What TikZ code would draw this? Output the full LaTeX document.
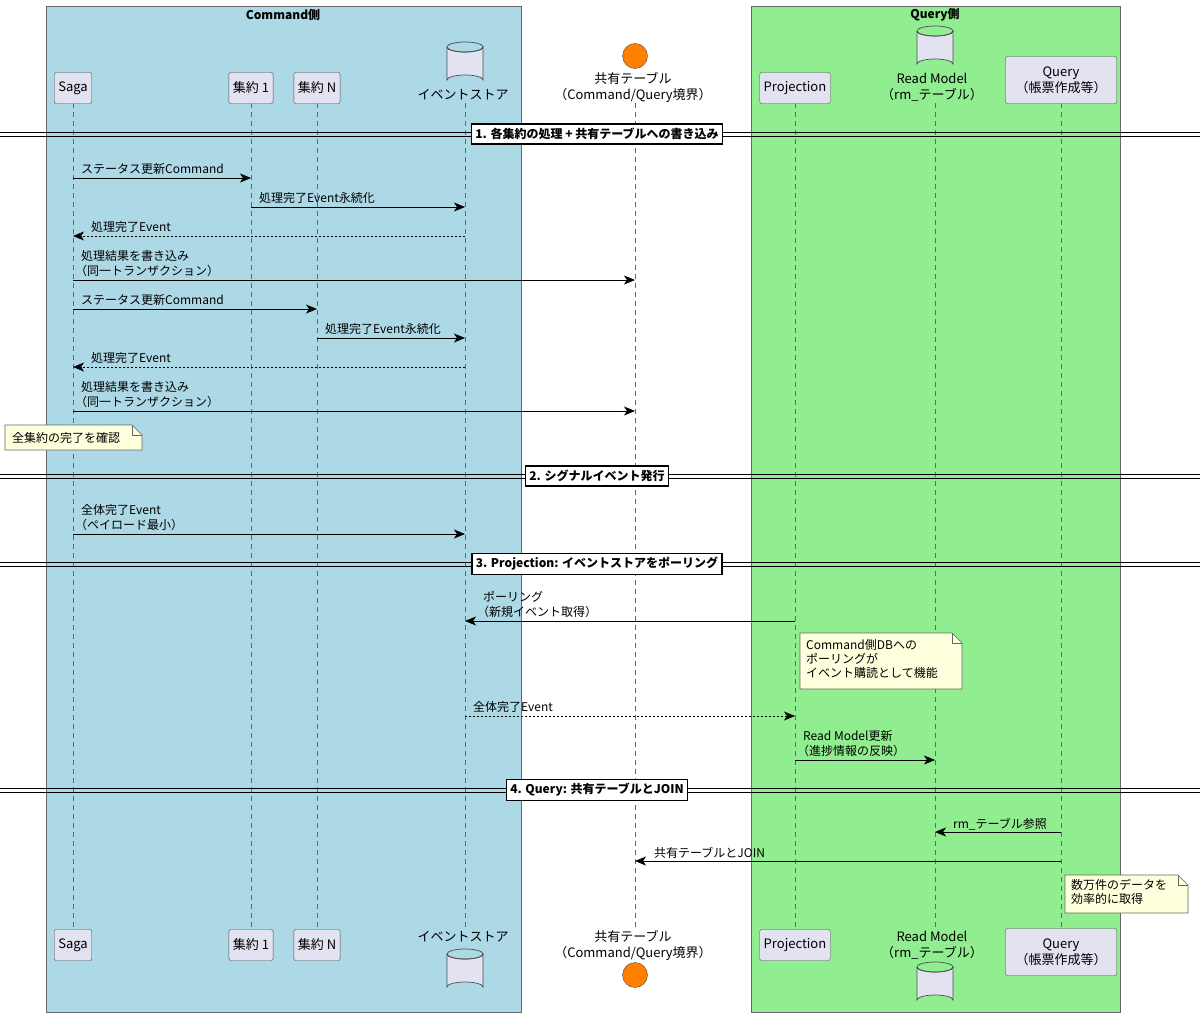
\documentclass[tikz,border=0pt]{standalone}
\usepackage{fontspec}
\setmainfont{Noto Sans CJK JP}
\usetikzlibrary{arrows.meta}
\tikzset{
 part/.style={draw=black!70,fill=partfill,rounded corners=2pt,minimum height=31pt,inner sep=4pt,font=\fontsize{13}{16}\selectfont},
 lbl/.style={font=\fontsize{12}{14}\selectfont,inner sep=0pt,anchor=base west},
 msg/.style={-{Stealth[length=11pt,width=9pt,inset=3pt]},line width=0.8pt},
 rmsg/.style={msg,dash pattern=on 2pt off 2pt},
 life/.style={dash pattern=on 5pt off 4pt,black!60,line width=0.6pt},
 divlab/.style={draw,fill=white,line width=1.5pt,font=\bfseries\fontsize{12}{14}\selectfont,inner sep=4pt},
 notebox/.style={draw=black!60,fill=notefill,line width=0.6pt},
}
\definecolor{partfill}{HTML}{E2E2F0}
\definecolor{notefill}{HTML}{FEFFDD}
\definecolor{cmdbox}{HTML}{ADD8E6}
\definecolor{qbox}{HTML}{90EE90}
\begin{document}
\begin{tikzpicture}[x=1pt,y=-1pt]
\useasboundingbox (0,0) rectangle (1200,1023);
\fill[white] (0,0) rectangle (1200,1023);
% boxes
\draw[fill=cmdbox,draw=black!60] (46,6) rectangle (521,1012);
\node[font=\bfseries\fontsize{12}{14}\selectfont] (cmdt) at (283,15) {Command側};
\draw[fill=qbox,draw=black!60] (751,6) rectangle (1120,1012);
\node[font=\bfseries\fontsize{12}{14}\selectfont] (qt) at (935,15) {Query側};
% lifelines
\foreach \n/\x in {saga/73,ag1/251,agn/317,es/465,sh/635,pj/795,rm/935,qr/1061}{
 \coordinate (\n) at (\x,0);
 \draw[life] (\x,103) -- (\x,929);
}
% participants top/bottom
\node[part] (sagaT) at (73,88) {Saga};
\node[part] (ag1T) at (251,88) {集約 1};
\node[part] (agnT) at (317,88) {集約 N};
\node[part] (pjT) at (795,88) {Projection};
\node[part,align=center,minimum width=111pt,minimum height=47pt,inner sep=2pt] (qrT) at (1061,80) {Query\\（帳票作成等）};
\node[part] (sagaB) at (73,945) {Saga};
\node[part] (ag1B) at (251,945) {集約 1};
\node[part] (agnB) at (317,945) {集約 N};
\node[part] (pjB) at (795,945) {Projection};
\node[part,align=center,minimum width=111pt,minimum height=47pt,inner sep=2pt] (qrB) at (1061,952) {Query\\（帳票作成等）};
% databases
\foreach \n/\x/\y in {esT/465/42,rmT/935/26,esB/465/949,rmB/935/962}{
 \begin{scope}[shift={(\x,\y)}]
 \draw[fill=partfill,draw=black!70,line width=0.7pt] (-18,5) -- (-18,38) arc[start angle=180,end angle=360,x radius=18,y radius=5] -- (18,5) arc[start angle=0,end angle=-180,x radius=18,y radius=-5];
 \draw[black!70,line width=0.7pt] (-18,5) arc[start angle=180,end angle=0,x radius=18,y radius=5];
 \draw[black!70,line width=0.7pt] (-18,5) arc[start angle=180,end angle=360,x radius=18,y radius=5];
 \end{scope}
 \coordinate (\n) at (\x,\y);
}
\node[font=\fontsize{13}{16}\selectfont] (esLT) at (463,95) {イベントストア};
\node[font=\fontsize{13}{16}\selectfont] (esLB) at (463,937) {イベントストア};
\node[font=\fontsize{13}{16}\selectfont,align=center] (rmLT) at (932,87) {Read Model\\（rm\_テーブル）};
\node[font=\fontsize{13}{16}\selectfont,align=center] (rmLB) at (932,945) {Read Model\\（rm\_テーブル）};
% entity
\node[circle,fill=orange,draw=black!70,minimum size=25pt,inner sep=0pt] (shT) at (635,56) {};
\node[circle,fill=orange,draw=black!70,minimum size=25pt,inner sep=0pt] (shB) at (635,975) {};
\node[font=\fontsize{13}{16}\selectfont,align=center] (shLT) at (633,87) {共有テーブル\\（Command/Query境界）};
\node[font=\fontsize{13}{16}\selectfont,align=center] (shLB) at (633,945) {共有テーブル\\（Command/Query境界）};
% dividers
\foreach \y/\t/\n in {134/{1. 各集約の処理 + 共有テーブルへの書き込み}/d1,476/{2. シグナルイベント発行}/d2,564/{3. Projection: イベントストアをポーリング}/d3,790/{4. Query: 共有テーブルとJOIN}/d4}{
 \draw[line width=0.8pt] (0,\y-2) -- (1200,\y-2) (0,\y+2) -- (1200,\y+2);
 \node[divlab] (\n) at (597,\y) {\t};
}
% messages
\newcommand\msgline[5]{% style, from, to, y, label lines(already)
 \draw[#1] (#2 |- 0,#4) -- (#3 |- 0,#4);}
\msgline{msg}{saga}{ag1}{178}{}
\node[lbl] (m1) at (81,173) {ステータス更新Command};
\msgline{msg}{ag1}{es}{207}{}
\node[lbl] (m2) at (259,202) {処理完了Event永続化};
\msgline{rmsg}{es}{saga}{236}{}
\node[lbl] (m3) at (91,231) {処理完了Event};
\msgline{msg}{saga}{sh}{280}{}
\node[lbl] (m4) at (81,260) {処理結果を書き込み};
\node[lbl] (m4b) at (75,275) {（同一トランザクション）};
\msgline{msg}{saga}{agn}{309}{}
\node[lbl] (m5) at (81,304) {ステータス更新Command};
\msgline{msg}{agn}{es}{338}{}
\node[lbl] (m6) at (325,333) {処理完了Event永続化};
\msgline{rmsg}{es}{saga}{367}{}
\node[lbl] (m7) at (91,362) {処理完了Event};
\msgline{msg}{saga}{sh}{411}{}
\node[lbl] (m8) at (81,391) {処理結果を書き込み};
\node[lbl] (m8b) at (75,406) {（同一トランザクション）};
\msgline{msg}{saga}{es}{534}{}
\node[lbl] (m9) at (81,514) {全体完了Event};
\node[lbl] (m9b) at (75,529) {（ペイロード最小）};
\msgline{msg}{pj}{es}{621}{}
\node[lbl] (m10) at (483,601) {ポーリング};
\node[lbl] (m10b) at (477,616) {（新規イベント取得）};
\msgline{rmsg}{es}{pj}{716}{}
\node[lbl] (m11) at (473,711) {全体完了Event};
\msgline{msg}{pj}{rm}{760}{}
\node[lbl] (m12) at (803,740) {Read Model更新};
\node[lbl] (m12b) at (797,755) {（進捗情報の反映）};
\msgline{msg}{qr}{rm}{832}{}
\node[lbl] (m13) at (953,828) {rm\_テーブル参照};
\msgline{msg}{qr}{sh}{861}{}
\node[lbl] (m14) at (654,857) {共有テーブルとJOIN};
% notes
\newcommand\notepath[4]{% x1 y1 x2 y2
 \draw[notebox] (#1,#2) -- (#3-10,#2) -- (#3,#2+10) -- (#3,#4) -- (#1,#4) -- cycle;
 \draw[notebox,fill=none] (#3-10,#2) -- (#3-10,#2+10) -- (#3,#2+10);}
\notepath{5}{425}{142}{450}
\node[lbl] (n1) at (12,442) {全集約の完了を確認};
\notepath{800}{633}{962}{689}
\node[lbl,align=left,anchor=north west] (n2) at (806,639) {Command側DBへの\\ポーリングが\\イベント購読として機能};
\notepath{1065}{875}{1188}{913}
\node[lbl,align=left,anchor=north west] (n3) at (1071,879) {数万件のデータを\\効率的に取得};
\end{tikzpicture}
\end{document}
